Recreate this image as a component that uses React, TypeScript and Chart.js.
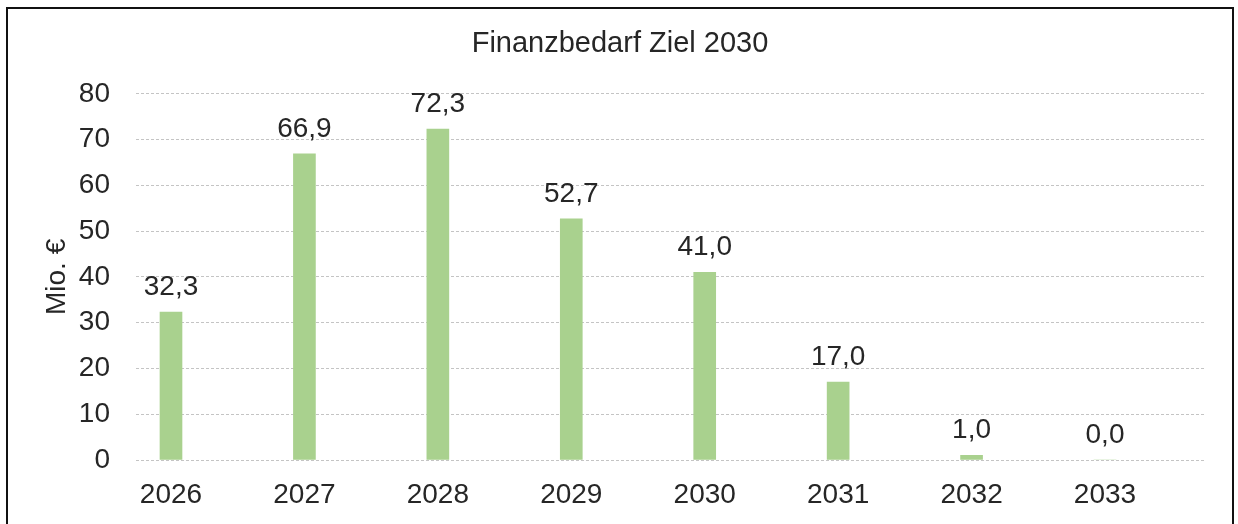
import React, { useEffect, useRef } from "react";
import { Chart, registerables } from "chart.js";

Chart.register(...registerables);

const years: string[] = ["2026", "2027", "2028", "2029", "2030", "2031", "2032", "2033"];
const values: number[] = [32.3, 66.9, 72.3, 52.7, 41.0, 17.0, 1.0, 0.0];
const yTicks: number[] = [0, 10, 20, 30, 40, 50, 60, 70, 80];
const chartTitle = "Finanzbedarf Ziel 2030";
const yAxisTitle = "Mio. €";

const FONT = "'Liberation Sans', Arial, sans-serif";
const TEXT = "#262626";

const fmt = (v: number) => v.toFixed(1).replace(".", ",");

const labelPlugin = {
  id: "valueLabels",
  afterDatasetsDraw(chart: any) {
    const ctx = chart.ctx;
    const meta = chart.getDatasetMeta(0);
    ctx.save();
    ctx.font = `28px ${FONT}`;
    ctx.fillStyle = TEXT;
    ctx.textAlign = "center";
    ctx.textBaseline = "alphabetic";
    meta.data.forEach((el: any, i: number) => {
      ctx.fillText(fmt(values[i]), el.x, el.y - 17);
    });
    ctx.restore();
  },
};

export default function App() {
  const ref = useRef<HTMLCanvasElement | null>(null);
  useEffect(() => {
    if (!ref.current) return;
    const chart = new Chart(ref.current, {
      type: "bar",
      data: {
        datasets: [
          {
            data: values.map((v, i) => ({ x: i, y: v })),
            backgroundColor: "#a9d18e",
            borderWidth: 0,
            barThickness: 22,
          },
        ],
      },
      plugins: [labelPlugin],
      options: {
        responsive: false,
        animation: false,
        layout: { padding: 0 },
        plugins: {
          legend: { display: false },
          tooltip: { enabled: false },
          title: {
            display: true,
            text: chartTitle,
            color: TEXT,
            font: { family: FONT, size: 29, weight: "normal" },
            padding: { top: 18, bottom: 32 },
          },
        },
        scales: {
          x: {
            type: "linear",
            offset: false,
            min: -0.2623,
            max: 7.742,
            afterBuildTicks: (s: any) => {
              s.ticks = years.map((_, i) => ({ value: i }));
            },
            afterFit: (s: any) => {
              s.height = 64;
            },
            ticks: {
              callback: (v: any) => years[Math.round(Number(v))] ?? "",
              color: TEXT,
              font: { family: FONT, size: 28 },
              padding: 18,
              maxRotation: 0,
              autoSkip: false,
            },
            grid: { display: false, drawTicks: false, offset: false },
            border: { display: false },
          },
          y: {
            min: 0,
            max: 80,
            afterBuildTicks: (s: any) => {
              s.ticks = yTicks.map((v) => ({ value: v }));
            },
            afterFit: (s: any) => {
              s.width = 128;
            },
            ticks: {
              color: TEXT,
              font: { family: FONT, size: 28 },
              padding: 26,
            },
            grid: { color: "#c4c4c4", lineWidth: 1, drawTicks: false },
            border: { display: false, dash: [3, 2] },
            title: {
              display: true,
              text: yAxisTitle,
              color: TEXT,
              font: { family: FONT, size: 28 },
              padding: { top: 32, bottom: 0 },
            },
          },
          yRight: {
            position: "right",
            display: true,
            min: 0,
            max: 80,
            afterFit: (s: any) => {
              s.width = 28;
            },
            ticks: { display: false },
            grid: { display: false, drawTicks: false },
            border: { display: false },
          },
        },
      },
    } as any);
    return () => chart.destroy();
  }, []);

  return (
    <div
      style={{
        position: "absolute",
        left: 6,
        top: 7,
        width: 1224,
        height: 517,
        borderTop: "2px solid #111",
        borderLeft: "2px solid #111",
        borderRight: "2px solid #111",
        background: "#fff",
      }}
    >
      <canvas ref={ref} width={1224} height={515} style={{ display: "block", width: 1224, height: 515 }} />
    </div>
  );
}
